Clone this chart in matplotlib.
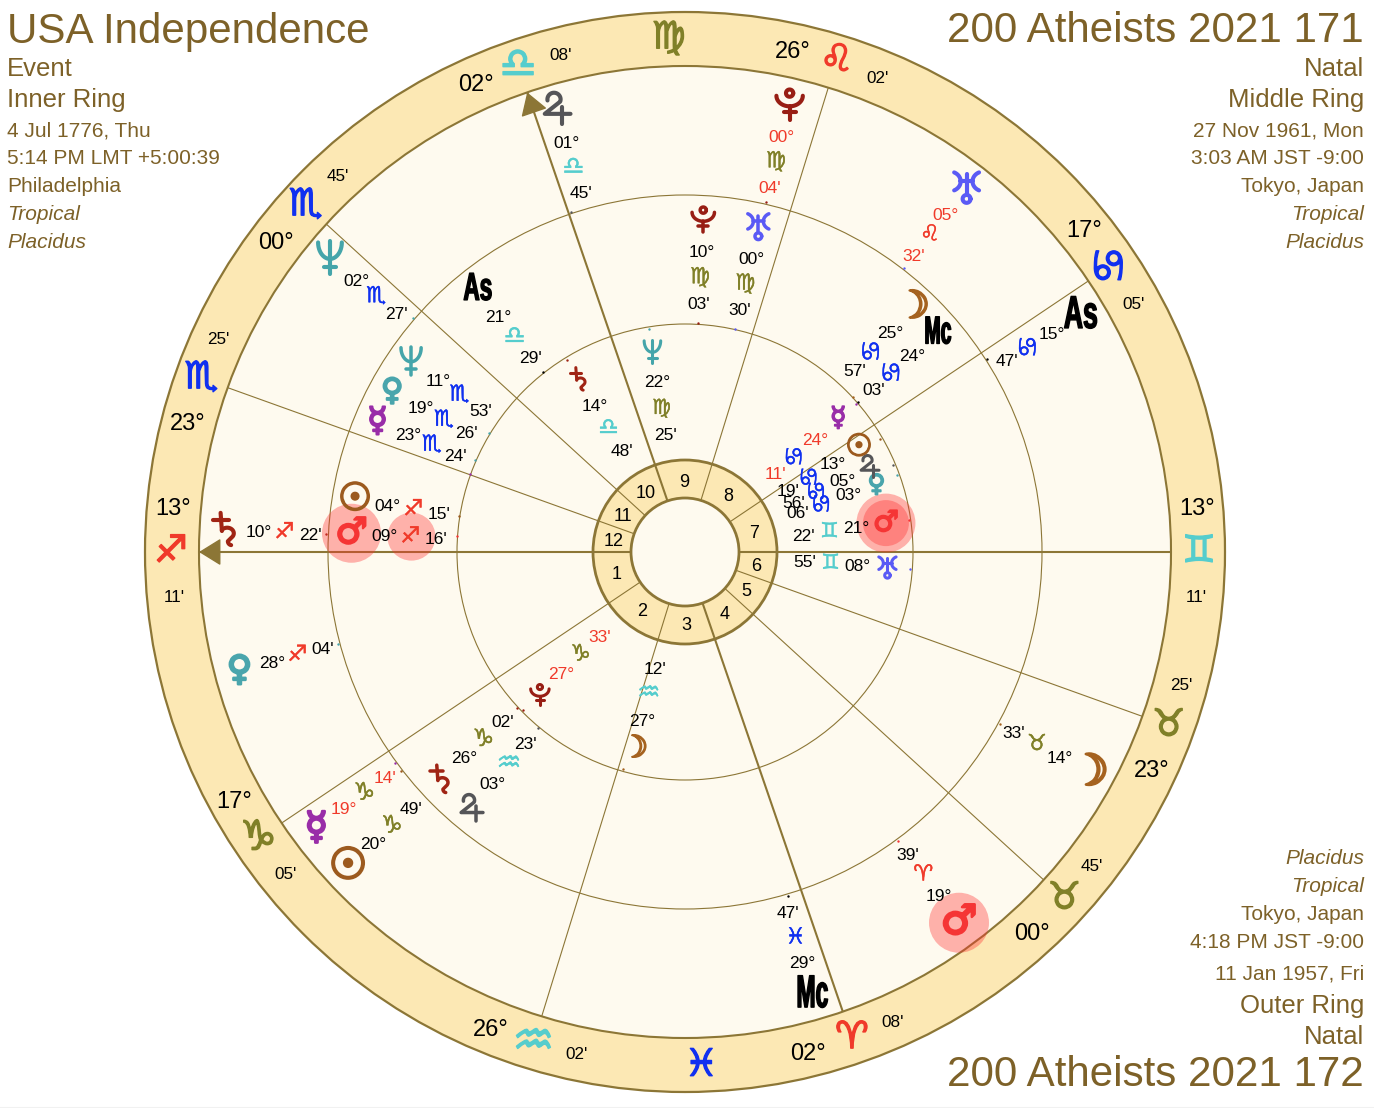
import numpy as np
import matplotlib
matplotlib.use("Agg")
import matplotlib.pyplot as plt
from matplotlib.patches import Circle
from matplotlib.transforms import Affine2D
import matplotlib.patheffects as pe

# ---------- data ----------
sign_names = ["Ari","Tau","Gem","Can","Leo","Vir","Lib","Sco","Sag","Cap","Aqu","Pis"]
sign_glyphs = ["♈","♉","♊","♋","♌","♍","♎","♏","♐","♑","♒","♓"]

cusp_signs = ["Sag","Cap","Aqu","Ari","Tau","Tau","Gem","Can","Leo","Lib","Sco","Sco"]
cusp_degrees = [13,17,26,2,0,23,13,17,26,2,0,23]
cusp_minutes = [11,5,2,8,45,25,11,5,2,8,45,25]
intercepted_signs = ["Pis","Vir"]
house_numbers = list(range(1,13))

outer_bodies = ["Sun","Mercury","Venus","Saturn","Neptune","Jupiter","Pluto","Uranus","As","Moon","Mars","Mc"]
outer_signs = ["Cap","Cap","Sag","Sag","Sco","Lib","Vir","Leo","Can","Tau","Ari","Pis"]
outer_degrees = [20,19,28,10,2,1,0,5,15,14,19,29]
outer_minutes = [49,14,4,22,27,45,4,32,47,33,39,47]
outer_retro = ["Mercury","Pluto","Uranus"]
outer_spread = [5.4,0.85,0,0,1.1,-2.4,0,0,-1.8,0,0,-0.6]

middle_bodies = ["Sun","Mars","Mercury","Venus","Neptune","As","Uranus","Pluto","Moon","Mc","Saturn","Jupiter"]
middle_signs = ["Sag","Sag","Sco","Sco","Sco","Lib","Vir","Vir","Can","Can","Cap","Aqu"]
middle_degrees = [4,9,23,19,11,21,0,10,25,24,26,3]
middle_minutes = [15,16,24,26,53,29,30,3,57,3,2,23]
middle_retro = []
middle_spread = [0,0.7,-3.2,-5.0,-3.6,0,0,0,4.2,0,0,0]

inner_bodies = ["Saturn","Neptune","Moon","Pluto","Uranus","Mars","Venus","Jupiter","Sun","Mercury"]
inner_signs = ["Lib","Vir","Aqu","Cap","Gem","Gem","Can","Can","Can","Can"]
inner_degrees = [14,22,27,27,8,21,3,5,13,24]
inner_minutes = [48,25,12,33,55,22,6,56,19,11]
inner_retro = ["Pluto","Mercury"]
inner_spread = [0,0,1.6,0,0,0,-0.5,2.0,0.9,0]

left_header = ["USA Independence","Event","Inner Ring","4 Jul 1776, Thu","5:14 PM LMT +5:00:39","Philadelphia","Tropical","Placidus"]
right_header = ["200 Atheists 2021 171","Natal","Middle Ring","27 Nov 1961, Mon","3:03 AM JST -9:00","Tokyo, Japan","Tropical","Placidus"]
bottom_header = ["Placidus","Tropical","Tokyo, Japan","4:18 PM JST -9:00","11 Jan 1957, Fri","Outer Ring","Natal","200 Atheists 2021 172"]

# ---------- styles ----------
BROWN = "#7D6128"; LINE = "#8C7636"; BAND = "#FCE8B4"; CREAM = "#FEFAEF"
body_glyph = {"Sun":"☉","Moon":"☽","Mercury":"☿","Venus":"♀","Mars":"♂"}
body_scale = {"Sun":1.0,"Moon":1.0,"Mercury":0.88,"Venus":0.8,"Mars":0.95}
body_color = {"Sun":"#9C5A1E","Moon":"#A5621F","Mercury":"#992DA8","Venus":"#4AA5AC","Mars":"#F53535","Jupiter":"#555558",
              "Saturn":"#A02414","Uranus":"#5A5AF5","Neptune":"#45A5AA","Pluto":"#981E14","As":"black","Mc":"black"}
elem = ["#F03A2A","#808028","#55CDCD","#1030F0"]
sign_color = {s: elem[i % 4] for i, s in enumerate(sign_names)}
sign_scale = {"Aqu":1.25,"Can":1.15,"Cap":1.1,"Lib":1.1}
sign_rotation = {"Can":90}
RED = "#F03A2A"
SANS = "Liberation Sans"
CX, CY = 685, 552
R_OUT, R_Z, R_A, R_B, R_H, R_I = 540, 486, 357, 228, 92, 54

def arc(cx, cy, rx, ry, a0, a1, n=24):
    t = np.radians(np.linspace(a0, a1, n))
    return list(zip(cx + rx * np.cos(t), cy + ry * np.sin(t)))

# outline shapes of the symbols that the installed fonts draw differently (unit height, y down)
symbol_strokes = {
    "Pluto": [arc(0, -0.22, 0.40, 0.32, 180, 0), arc(0, -0.30, 0.11, 0.11, 0, 360),
              [(0, 0.10), (0, 0.5)], [(-0.18, 0.28), (0.18, 0.28)]],
    "Neptune": [arc(0, -0.47, 0.36, 0.50, 180, 0), [(0, -0.5), (0, 0.5)], [(-0.18, 0.28), (0.18, 0.28)]],
    "Uranus": [arc(-0.52, -0.17, 0.34, 0.30, -65, 65), arc(0.52, -0.17, 0.34, 0.30, 115, 245),
               [(-0.2, -0.17), (0.2, -0.17)], [(0, -0.38), (0, 0.22)], arc(0, 0.36, 0.12, 0.12, 0, 360)],
    "Jupiter": [arc(-0.08, -0.30, 0.20, 0.20, 170, 380) + [(-0.36, 0.14), (0.42, 0.14)], [(0.16, -0.08), (0.16, 0.45)]],
    "Saturn": [[(-0.12, -0.5), (-0.08, 0.05)], [(-0.36, -0.28), (0.12, -0.28)],
               arc(0.08, 0.12, 0.20, 0.17, 215, 395) + [(0.10, 0.36)] + arc(0.22, 0.36, 0.12, 0.12, 180, 100, 6)],
}

class Squeeze(pe.AbstractPathEffect):
    """Draw a real text narrower, about its own centre."""
    def __init__(self, factor, stroke):
        super().__init__()
        self.factor, self.stroke = factor, stroke
    def draw_path(self, renderer, gc, tpath, affine, rgbFace=None):
        box = tpath.get_extents(affine)
        cx = (box.x0 + box.x1) / 2
        tr = affine + Affine2D().translate(-cx, 0).scale(self.factor, 1).translate(cx, 0)
        gc0 = renderer.new_gc(); gc0.copy_properties(gc)
        gc0.set_linewidth(self.stroke); gc0.set_foreground(rgbFace)
        renderer.draw_path(gc0, tpath, tr, rgbFace)
        gc0.restore()

fig = plt.figure(figsize=(13.74, 11.08), dpi=100, facecolor="white")
ax = fig.add_axes([0, 0, 1, 1])
ax.set_xlim(0, 1374); ax.set_ylim(1108, 0); ax.axis("off")
ax.axhline(1107.3, color="#F1F1F1", lw=0.8, zorder=0)

def lon(sign, d, m):
    return sign_names.index(sign) * 30 + d + m / 60.0

asc = lon(cusp_signs[0], cusp_degrees[0], cusp_minutes[0])
def ang(l):
    return 180 + l - asc
def xy(a, r):
    t = np.radians(a)
    return CX + r * np.cos(t), CY - r * np.sin(t)

def put(a, r, s, size, color="black", **kw):
    x, y = xy(a, r)
    kw.setdefault("family", SANS)
    return ax.text(x, y, s, fontsize=size, color=color, ha="center", va="center_baseline", zorder=6, **kw)

def glyph(a, r, s, size, color, stroke=1.0, rotation=0):
    x, y = xy(a, r)
    ax.text(x, y, s, fontsize=size, color=color, ha="center", va="center", family="DejaVu Sans", zorder=6,
            rotation=rotation, rotation_mode="anchor" if rotation == 0 else "default",
            path_effects=[pe.withStroke(linewidth=stroke, foreground=color)])

def sign_mark(a, r, s, size, stroke):
    glyph(a, r, sign_glyphs[sign_names.index(s)], size * sign_scale.get(s, 1.0), sign_color[s], stroke,
          sign_rotation.get(s, 0))

def symbol(name, a, r, height, color):
    x, y = xy(a, r)
    for stroke in symbol_strokes[name]:
        pts = np.array(stroke) * height
        ax.plot(x + pts[:, 0], y + pts[:, 1], color=color, lw=max(height * 0.09, 2.2), zorder=6,
                solid_capstyle="round", solid_joinstyle="round")

# rings
ax.add_patch(Circle((CX, CY), R_OUT, fc=BAND, ec=LINE, lw=1.6, zorder=1))
ax.add_patch(Circle((CX, CY), R_Z, fc=CREAM, ec=LINE, lw=1.5, zorder=1))
for r in (R_A, R_B):
    ax.add_patch(Circle((CX, CY), r, fc="none", ec=LINE, lw=0.8, zorder=2))
ax.add_patch(Circle((CX, CY), R_H, fc=BAND, ec=LINE, lw=2.0, zorder=3))
ax.add_patch(Circle((CX, CY), R_I, fc=CREAM, ec=LINE, lw=2.0, zorder=4))

# cusps
cusp_angles = [ang(lon(s, d, m)) for s, d, m in zip(cusp_signs, cusp_degrees, cusp_minutes)]
for i, a in enumerate(cusp_angles):
    angular = i in (0, 3, 6, 9)
    x0, y0 = xy(a, R_I); x1, y1 = xy(a, R_Z)
    ax.plot([x0, x1], [y0, y1], color=LINE, lw=1.5 if angular else 0.8, zorder=3.5, solid_capstyle="butt")
    if i in (0, 9):
        xa, ya = xy(a, R_Z - 16)
        ax.annotate("", xy=(x1, y1), xytext=(xa, ya), zorder=5,
                    arrowprops=dict(arrowstyle="-|>,head_length=1.0,head_width=0.62", color=LINE, lw=1.0,
                                    shrinkA=0, shrinkB=0, mutation_scale=14))
    sign_mark(a, 514, cusp_signs[i], 27, 1.0)
    side = -1 if i < 6 else 1
    put(a + side * 5.1, 514, f"{cusp_degrees[i]:02d}°", 17)
    put(a - side * 4.9, 513, f"{cusp_minutes[i]:02d}'", 12.3)
    nxt = cusp_angles[(i + 1) % 12]
    if nxt < a: nxt += 360
    put((a + nxt) / 2, 72, str(house_numbers[i]), 13)

for s in intercepted_signs:
    sign_mark(ang(sign_names.index(s) * 30 + 15), 514, s, 27, 1.0)

def draw_ring(bodies, signs, degs, mins, retro, spread, radii, gsize, sym_h, ssize, tick_r, gstroke, as_size):
    for b, s, d, m, sh in zip(bodies, signs, degs, mins, spread):
        true = ang(lon(s, d, m))
        a = true + sh
        col = RED if b in retro else "black"
        if b in ("As", "Mc"):
            x, y = xy(a, radii[0])
            ax.text(x, y, b, fontsize=as_size, color="black", ha="center", va="center",
                    family=SANS, weight="bold", zorder=6,
                    path_effects=[Squeeze(0.58 if b == "As" else 0.50, 1.0)])
        elif b in symbol_strokes:
            symbol(b, a, radii[0], sym_h, body_color[b])
        else:
            glyph(a, radii[0], body_glyph[b], gsize * body_scale[b], body_color[b], gstroke)
        put(a, radii[1], f"{d:02d}°", 12.5, col)
        sign_mark(a, radii[2], s, ssize, 0.3)
        put(a, radii[3], f"{m:02d}'", 12.5, col)
        x, y = xy(true, tick_r)
        ax.scatter([x], [y], s=3, color=body_color[b], zorder=5, linewidths=0)

draw_ring(outer_bodies, outer_signs, outer_degrees, outer_minutes, outer_retro, outer_spread, (461, 427, 401, 375), 31, 33, 16, 359, 1.8, 33)
draw_ring(middle_bodies, middle_signs, middle_degrees, middle_minutes, middle_retro, middle_spread, (334, 301, 275, 249), 27.5, 28, 16, 229, 1.5, 28)
draw_ring(inner_bodies, inner_signs, inner_degrees, inner_minutes, inner_retro, inner_spread, (203, 173, 146, 120), 22, 23, 15, 226, 1.2, 20)

# highlights
def halo(bodies, spread, signs, degs, mins, name, r_plot, size):
    i = bodies.index(name)
    a = ang(lon(signs[i], degs[i], mins[i])) + spread[i]
    ax.add_patch(Circle(xy(a, r_plot), size, fc="#FF3030", ec="none", alpha=0.36, zorder=5.5))

halo(outer_bodies, outer_spread, outer_signs, outer_degrees, outer_minutes, "Mars", 461, 30)
halo(middle_bodies, middle_spread, middle_signs, middle_degrees, middle_minutes, "Mars", 334, 29.5)
halo(middle_bodies, middle_spread, middle_signs, middle_degrees, middle_minutes, "Mars", 274, 24)
halo(inner_bodies, inner_spread, inner_signs, inner_degrees, inner_minutes, "Mars", 203, 29.5)
halo(inner_bodies, inner_spread, inner_signs, inner_degrees, inner_minutes, "Mars", 203, 23)

# headers
ys_top = [27, 67, 98, 129, 157, 185, 213, 241]
ys_bot = [857, 885, 913, 941, 972, 1003, 1035, 1071]
sizes_top = [30.3, 18.5, 18.5, 15, 15, 15, 15, 15]
styles_top = ["normal"] * 6 + ["italic"] * 2
for txt, y, fs, st in zip(left_header, ys_top, sizes_top, styles_top):
    ax.text(7, y, txt, color=BROWN, fontsize=fs, style=st, family=SANS, ha="left", va="center_baseline")
for txt, y, fs, st in zip(right_header, ys_top, sizes_top, styles_top):
    ax.text(1364, y, txt, color=BROWN, fontsize=fs, style=st, family=SANS, ha="right", va="center_baseline")
for txt, y, fs, st in zip(bottom_header, ys_bot, sizes_top[::-1], styles_top[::-1]):
    ax.text(1364, y, txt, color=BROWN, fontsize=fs, style=st, family=SANS, ha="right", va="center_baseline")

fig.savefig("out.png", dpi=100, facecolor="white")
